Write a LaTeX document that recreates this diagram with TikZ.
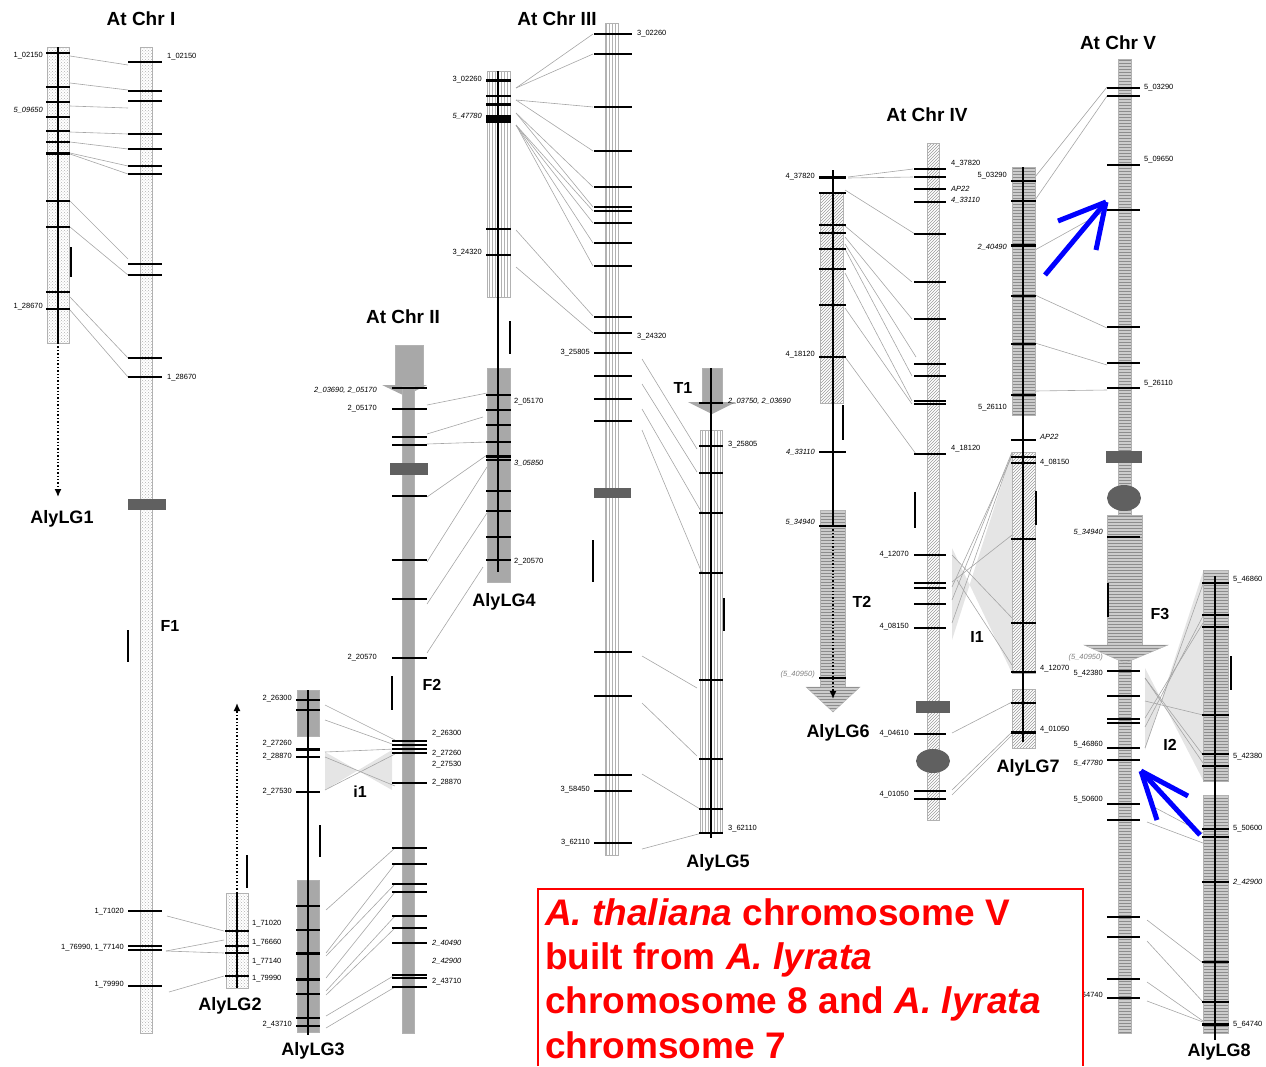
\documentclass[tikz,border=0pt]{standalone}
\usepackage{fontspec}
\setmainfont{Liberation Sans}
\usetikzlibrary{patterns,arrows.meta}
\begin{document}
\begin{tikzpicture}[x=1pt,y=-1pt,
        tk/.style={line width=1.4pt},
        tkthick/.style={line width=3pt},
        link/.style={draw=gray!70, line width=0.6pt},
        sbar/.style={line width=1.4pt},
        cline/.style={line width=1.4pt},
        cen/.style={fill=gray!75!black, draw=none},
        dotchr/.style={draw=gray!60, pattern=crosshatch dots, pattern color=gray!60},
        grchr/.style={draw=gray!60, fill=gray!68},
        vlchr/.style={draw=gray!60, pattern=vertical lines, pattern color=gray!60},
        hachr/.style={draw=gray!60, pattern=north east lines, pattern color=gray!80},
        hlchr/.style={draw=gray!60, preaction={fill=gray!40}, pattern=horizontal lines, pattern color=gray!90},
        inv/.style={fill=gray!20, draw=none},
        chrtitle/.style={font=\bfseries\fontsize{19}{19}\selectfont},
        lg/.style={font=\bfseries\fontsize{18}{18}\selectfont},
        ev/.style={font=\bfseries\fontsize{16}{16}\selectfont},
        labr/.style={anchor=west, inner sep=1pt, font=\fontsize{7.5}{8}\selectfont},
        labl/.style={anchor=east, inner sep=1pt, font=\fontsize{7.5}{8}\selectfont},
        bluearr/.style={draw=blue, line width=5pt},
        redtxt/.style={anchor=base west, inner sep=0pt, text=red, font=\bfseries\fontsize{37}{44}\selectfont},
    ]
    \useasboundingbox (0,0) rectangle (1266,1066);

    % inversion areas
    \fill[inv] (325,752) -- (392,790) -- (392,750) -- (325,790) -- cycle;
    \fill[inv] (952,548) -- (1012,673) -- (1012,452) -- (952,640) -- cycle;
    \fill[inv] (1145,668) -- (1203,780) -- (1203,572) -- (1145,750) -- cycle;

    % connectors between linkage groups and chromosomes
    \foreach \xa/\ya/\xb/\yb [count=\i] in {
        70/56/128/65, 70/83/128/90, 70/106/128/108, 70/132/128/134, 70/142/128/149, 70/153/128/166,
        70/154/128/174, 70/201/128/259, 70/227/128/275, 70/297/128/358, 70/310/128/377,
        167/916/224/931, 166/951/224/940, 166/951/224/953, 169/992/224/976,
        427/405/487/393, 427/434/483/417, 427/444/487/442, 427/497/487/455, 427/562/487/467,
        427/604/487/513, 427/653/483/567,
        516/88/593/34, 516/88/593/54, 516/100/593/107, 516/100/593/151, 516/113/593/187,
        516/113/593/207, 516/125/593/211, 516/125/593/223, 516/125/593/243, 516/125/593/266,
        516/230/593/316, 516/267/593/333,
        642/359/697/449, 642/384/697/472, 642/409/702/513, 642/430/702/573, 642/656/697/688,
        642/703/697/756, 642/774/700/809, 642/849/702/833,
        325/705/395/740, 325/720/395/745, 325/752/395/749, 325/757/395/786, 325/790/395/754,
        326/910/395/848, 326/953/395/864, 326/956/395/884, 326/978/395/892, 326/991/395/916,
        326/995/395/928, 326/1016/395/975, 326/1028/395/987,
        848/177/913/169, 848/178/913/177, 845/190/915/234, 845/226/912/282, 845/237/912/319,
        845/244/916/357, 845/249/912/376, 845/273/912/401, 845/308/912/404, 845/357/916/454,
        952/555/1012/618, 952/582/1012/535, 952/587/1012/456, 952/600/1012/452, 952/623/1012/453,
        957/580/1012/665, 952/733/1012/702, 952/790/1012/732, 952/795/1012/735,
        1035/177/1107/87, 1035/200/1107/96, 1035/250/1107/210, 1035/295/1107/328,
        1035/343/1107/365, 1035/391/1107/390,
        1145/748/1203/584, 1145/727/1203/616, 1145/718/1203/623, 1145/701/1203/715,
        1145/678/1203/755, 1145/678/1203/763, 1150/805/1203/833, 1147/822/1203/843,
        1147/920/1203/963, 1147/941/1203/1002, 1147/982/1203/1021, 1147/1001/1203/1022}
    {
        \coordinate (pa\i) at (\xa,\ya);
        \coordinate (pb\i) at (\xb,\yb);
        \draw[link] (pa\i) -- (pb\i);
    }

    % At Chr I
    \draw[dotchr] (140,47) rectangle (152,1033);
    \fill[cen] (128,499) rectangle (166,510);
    \foreach \y in {62,91,101,134,149,166,174,264,275,358,377,911,946,950,986}
        \draw[tk] (128,\y) -- (162,\y);
    \draw[sbar] (128,630) -- (128,662);

    % AlyLG1
    \draw[dotchr] (47,47) rectangle (69,343);
    \draw[cline] (58,47) -- (58,343);
    \draw[cline, dotted, -{Latex[length=8pt,width=7pt]}] (58,343) -- (58,497);
    \foreach \y in {53,87,102,117,131,142,201,227,292,309}
        \draw[tk] (46,\y) -- (70,\y);
    \draw[tkthick] (46,153) -- (70,153);
    \draw[sbar] (71,247) -- (71,277);

    % AlyLG2
    \draw[dotchr] (226,893) rectangle (248,988);
    \draw[cline] (237,893) -- (237,988);
    \draw[cline, dotted, -{Latex[length=8pt,width=7pt]}] (237,893) -- (237,703);
    \foreach \y in {931,946,953,976}
        \draw[tk] (225,\y) -- (249,\y);
    \draw[sbar] (247,855) -- (247,888);

    % At Chr II
    \draw[grchr] (395,345) rectangle (423,386);
    \fill[gray!68] (382,385) -- (427,385) -- (405,396) -- cycle;
    \draw[grchr] (402,386) rectangle (414,1033);
    \fill[cen] (390,463) rectangle (428,475);
    \foreach \y in {388,409,437,445,496,560,599,658,741,745,749,753,783,848,864,884,892,916,928,943,975,978,987}
        \draw[tk] (392,\y) -- (427,\y);
    \draw[sbar] (392,676) -- (392,710);

    % AlyLG4
    \draw[vlchr] (487,71) rectangle (510,297);
    \draw[grchr] (487,368) rectangle (510,582);
    \draw[cline] (498,71) -- (498,572);
    \foreach \y in {96,229,255,395,410,425,442,460,491,511,537,560}
        \draw[tk] (486,\y) -- (511,\y);
    \foreach \y in {80,104,456}
        \draw[tkthick] (486,\y) -- (511,\y);
    \draw[line width=8pt] (486,119) -- (511,119);
    \draw[sbar] (510,321) -- (510,354);

    % At Chr III
    \draw[vlchr] (605,23) rectangle (618,855);
    \fill[cen] (594,488) rectangle (631,498);
    \foreach \y in {34,54,107,151,187,207,211,223,243,266,317,333,353,376,399,421,652,696,775,791,843}
        \draw[tk] (594,\y) -- (632,\y);
    \draw[sbar] (593,540) -- (593,582);

    % AlyLG5
    \draw[grchr] (702,368) rectangle (722,402);
    \fill[gray!68] (688,402) -- (736,402) -- (712,414) -- cycle;
    \draw[vlchr] (700,430) rectangle (722,832);
    \draw[cline] (711,368) -- (711,838);
    \foreach \y in {403,446,473,513,573,680,759,809,833}
        \draw[tk] (699,\y) -- (723,\y);
    \draw[sbar] (724,598) -- (724,631);

    % AlyLG3
    \draw[grchr] (297,690) rectangle (319,736);
    \draw[grchr] (297,880) rectangle (319,1032);
    \draw[cline] (308,690) -- (308,1035);
    \foreach \y in {700,710,757,792,906,930,994,1018,1026}
        \draw[tk] (296,\y) -- (320,\y);
    \foreach \y in {749,953,979}
        \draw[tkthick] (296,\y) -- (320,\y);
    \draw[sbar] (320,825) -- (320,857);

    % At Chr IV
    \draw[hachr] (927,143) rectangle (939,820);
    \fill[cen] (916,701) rectangle (950,713);
    \fill[cen] (933,761) ellipse [x radius=17, y radius=12];
    \foreach \y in {169,177,189,202,234,282,319,364,376,401,404,454,555,583,588,604,628,734,791,799}
        \draw[tk] (914,\y) -- (946,\y);
    \draw[sbar] (915,492) -- (915,528);

    % AlyLG6
    \draw[hachr] (820,192) rectangle (843,403);
    \draw[hlchr] (820,510) rectangle (845,687);
    \draw[hlchr] (806,687) -- (860,687) -- (833,712) -- cycle;
    \draw[cline] (833,170) -- (833,526);
    \draw[cline, dotted, -{Latex[length=8pt,width=7pt]}] (833,526) -- (833,699);
    \foreach \y in {193,225,233,249,269,305,357,452,526,678}
        \draw[tk] (819,\y) -- (846,\y);
    \draw[tkthick] (819,177) -- (846,177);
    \draw[sbar] (843,405) -- (843,440);

    % AlyLG7
    \draw[hlchr] (1012,167) rectangle (1035,415);
    \draw[hachr] (1012,452) rectangle (1035,673);
    \draw[hachr] (1012,689) rectangle (1035,748);
    \draw[cline] (1023,167) -- (1023,742);
    \foreach \y in {181,201,296,344,395,440,457,463,539,623,672,703}
        \draw[tk] (1011,\y) -- (1036,\y);
    \foreach \y in {245,732}
        \draw[tkthick] (1011,\y) -- (1036,\y);
    \draw[sbar] (1036,491) -- (1036,525);

    % At Chr V
    \draw[hlchr] (1118,59) rectangle (1131,1033);
    \draw[hlchr] (1107,515) rectangle (1142,645);
    \draw[hlchr] (1084,645) -- (1168,645) -- (1125,663) -- cycle;
    \fill[cen] (1106,451) rectangle (1142,463);
    \fill[cen] (1124,498) ellipse [x radius=17, y radius=13];
    \foreach \y in {88,96,165,210,327,363,388,537,671,696,719,723,748,760,804,820,917,937,979,998}
        \draw[tk] (1107,\y) -- (1140,\y);
    \draw[sbar] (1108,583) -- (1108,617);

    % AlyLG8
    \draw[hlchr] (1203,570) rectangle (1228,781);
    \draw[hlchr] (1203,795) rectangle (1228,1033);
    \draw[cline] (1215,576) -- (1215,1040);
    \foreach \y in {583,615,627,715,754,766,829,837,882,962,1002}
        \draw[tk] (1202,\y) -- (1229,\y);
    \draw[tkthick] (1202,1024) -- (1229,1024);
    \draw[sbar] (1231,656) -- (1231,690);

    % marker labels
    \foreach \x/\y/\t [count=\i] in {
        166/57/1\_02150, 166/378/1\_28670,
        251/924/1\_71020, 251/943/1\_76660, 251/962/1\_77140, 251/979/1\_79990,
        431/734/2\_26300, 431/754/2\_27260, 431/765/2\_27530, 431/783/2\_28870,
        431/943/{\itshape 2\_40490}, 431/961/{\itshape 2\_42900}, 431/982/2\_43710,
        513/402/2\_05170, 513/463/{\itshape 3\_05850}, 513/562/2\_20570,
        636/34/3\_02260, 636/337/3\_24320,
        727/401/{\itshape 2\_03750, 2\_03690}, 727/445/3\_25805, 727/829/3\_62110,
        950/164/4\_37820, 950/189/{\itshape AP22}, 950/200/{\itshape 4\_33110}, 950/449/4\_18120,
        1039/437/{\itshape AP22}, 1039/463/4\_08150, 1039/669/4\_12070, 1039/730/4\_01050,
        1143/88/5\_03290, 1143/160/5\_09650, 1143/384/5\_26110,
        1232/580/5\_46860, 1232/757/5\_42380, 1232/829/5\_50600,
        1232/882/{\itshape 2\_42900}, 1232/1025/5\_64740}
        \node[labr] (mr\i) at (\x,\y) {\t};
    \foreach \x/\y/\t [count=\i] in {
        44/56/1\_02150, 44/110/{\itshape 5\_09650}, 44/307/1\_28670,
        125/912/1\_71020, 125/948/{1\_76990, 1\_77140}, 125/985/1\_79990,
        293/699/2\_26300, 293/744/2\_27260, 293/757/2\_28870, 293/792/2\_27530, 293/1025/2\_43710,
        378/390/{\itshape 2\_03690, 2\_05170}, 378/409/2\_05170, 378/658/2\_20570,
        483/80/3\_02260, 483/116/{\itshape 5\_47780}, 483/253/3\_24320,
        591/353/3\_25805, 591/790/3\_58450, 591/843/3\_62110,
        816/177/4\_37820, 816/355/4\_18120, 816/452/{\itshape 4\_33110}, 816/522/{\itshape 5\_34940},
        816/675/{\itshape\color{gray}(5\_40950)},
        910/555/4\_12070, 910/627/4\_08150, 910/734/4\_04610, 910/795/4\_01050,
        1008/176/5\_03290, 1008/247/{\itshape 2\_40490}, 1008/408/5\_26110,
        1104/532/{\itshape 5\_34940}, 1104/658/{\itshape\color{gray}(5\_40950)}, 1104/674/5\_42380,
        1104/745/5\_46860, 1104/763/{\itshape 5\_47780}, 1104/800/5\_50600, 1104/996/5\_64740}
        \node[labl] (ml\i) at (\x,\y) {\t};

    % chromosome titles and group names
    \node[chrtitle] (t1) at (141,19) {At Chr I};
    \node[chrtitle] (t2) at (403,317) {At Chr II};
    \node[chrtitle] (t3) at (557,19) {At Chr III};
    \node[chrtitle] (t4) at (927,115) {At Chr IV};
    \node[chrtitle] (t5) at (1118,43) {At Chr V};
    \node[lg] (lg1) at (62,519) {AlyLG1};
    \node[lg] (lg2) at (230,1006) {AlyLG2};
    \node[lg] (lg3) at (313,1051) {AlyLG3};
    \node[lg] (lg4) at (504,602) {AlyLG4};
    \node[lg] (lg5) at (718,863) {AlyLG5};
    \node[lg] (lg6) at (838,733) {AlyLG6};
    \node[lg] (lg7) at (1028,768) {AlyLG7};
    \node[lg] (lg8) at (1219,1052) {AlyLG8};
    \node[ev] (f1) at (170,626) {F1};
    \node[ev] (f2) at (432,685) {F2};
    \node[ev] (f3) at (1160,614) {F3};
    \node[ev] (tr1) at (683,388) {T1};
    \node[ev] (tr2) at (862,602) {T2};
    \node[ev] (in1) at (977,637) {I1};
    \node[ev] (in2) at (1170,745) {I2};
    \node[ev] (in3) at (360,792) {i1};

    % note box
    \fill[white] (538,889) rectangle (1083,1066);
    \draw[red, line width=2pt] (538,1066) -- (538,889) -- (1083,889) -- (1083,1066);
    \node[redtxt] (n1) at (545,925) {\itshape A. thaliana\upshape{} chromosome V};
    \node[redtxt] (n2) at (545,969) {built from \itshape A. lyrata};
    \node[redtxt] (n3) at (545,1013) {chromosome 8 and \itshape A. lyrata};
    \node[redtxt] (n4) at (545,1058) {chromsome 7};

    % blue arrows
    \coordinate (ba0) at (1045,275);
    \coordinate (ba1) at (1106,202);
    \coordinate (ba2) at (1058,221);
    \coordinate (ba3) at (1096,250);
    \draw[bluearr] (ba0) -- (ba1);
    \draw[bluearr] (ba2) -- (ba1);
    \draw[bluearr] (ba3) -- (ba1);
    \coordinate (bb0) at (1200,835);
    \coordinate (bb1) at (1141,771);
    \coordinate (bb2) at (1188,796);
    \coordinate (bb3) at (1157,820);
    \draw[bluearr] (bb0) -- (bb1);
    \draw[bluearr] (bb2) -- (bb1);
    \draw[bluearr] (bb3) -- (bb1);
\end{tikzpicture}
\end{document}
